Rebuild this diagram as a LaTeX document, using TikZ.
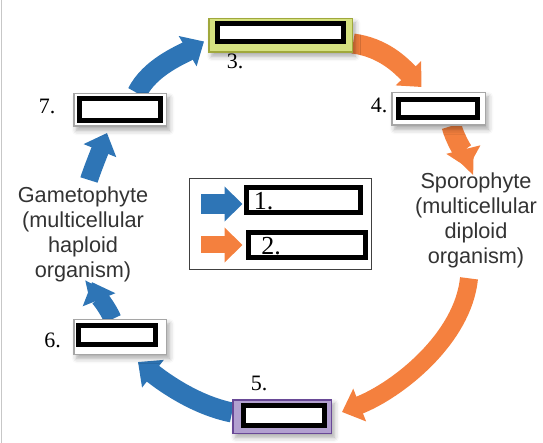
\documentclass[tikz,border=0pt]{standalone}
\usepackage{fontspec}
\setmainfont{Liberation Serif}
\newfontfamily\phasefont{Liberation Sans}
\usetikzlibrary{arrows.meta,calc,shadows.blur,backgrounds}

\definecolor{cycblue}{RGB}{46,117,182}
\definecolor{cycorange}{RGB}{244,128,62}
\definecolor{boxgreen}{RGB}{213,225,128}
\definecolor{boxolive}{RGB}{160,168,60}
\definecolor{boxlilac}{RGB}{178,160,208}
\definecolor{boxpurple}{RGB}{104,72,150}
\definecolor{boxgray}{RGB}{166,166,166}

\begin{document}
\begin{tikzpicture}[x=1pt,y=1pt,yscale=-1,xscale=1,
  outerbox/.style={draw=boxgray,line width=1.5pt,fill=white,inner sep=0pt,
    blur shadow={shadow xshift=3pt,shadow yshift=-4pt,shadow blur radius=5pt,shadow opacity=35}},
  blankbox/.style={draw=black,line width=5pt,fill=white,inner sep=0pt},
  numlabel/.style={font=\fontsize{22}{22}\selectfont,inner sep=0pt},
  keylabel/.style={font=\fontsize{26}{26}\selectfont,inner sep=0pt},
  phase/.style={align=center,inner sep=0pt,text=black!80,font=\phasefont\fontsize{21.7}{25}\selectfont},
  bigarrow/.style={line width=20pt,-{Triangle[length=19pt,width=34pt]}},
  keyarrow/.style={-{Triangle[length=18pt,width=34pt]}}]
\useasboundingbox (0,0) rectangle (543,443);
\draw [black!22,line width=1pt] (1,0) -- (1,443);
% boxes round the cycle
\node [outerbox,fill=boxgreen,draw=boxolive,minimum width=143.5pt,minimum height=33.5pt] (b3) at (280.5,35.5) {};
\node [blankbox,minimum width=126pt,minimum height=18pt] (b3in) at (280.5,32.5) {};
\node [numlabel] (l3) at (235,61) {3.};
\node [outerbox,minimum width=93.5pt,minimum height=32.5pt] (b4) at (438.5,109) {};
\node [blankbox,minimum width=79pt,minimum height=18pt] (b4in) at (438,108.5) {};
\node [numlabel] (l4) at (379,105.5) {4.};
\node [outerbox,fill=boxlilac,draw=boxpurple,minimum width=98.5pt,minimum height=33.5pt] (b5) at (282,416.5) {};
\node [blankbox,minimum width=81pt,minimum height=20pt] (b5in) at (284,415.5) {};
\node [numlabel] (l5) at (259,383.5) {5.};
\node [outerbox,minimum width=92.5pt,minimum height=34.5pt] (b6) at (120,337) {};
\node [blankbox,minimum width=77pt,minimum height=19pt] (b6in) at (117,335) {};
\node [numlabel] (l6) at (52.5,340) {6.};
\node [outerbox,minimum width=92.5pt,minimum height=32.5pt] (b7) at (120,110) {};
\node [blankbox,minimum width=81pt,minimum height=22pt] (b7in) at (120,109.5) {};
\node [numlabel] (l7) at (47,106) {7.};
% phases
\node [phase,anchor=north] (gam) at (83,186.5) {Gametophyte\\(multicellular\\haploid\\organism)};
\node [phase,anchor=north] (spo) at (476,172.7) {Sporophyte\\(multicellular\\diploid\\organism)};
% key
\node [draw=black!75,line width=1pt,minimum width=182pt,minimum height=91pt,inner sep=0pt] (key) at (280.5,224) {};
\node [blankbox,minimum width=114pt,minimum height=25pt] (r1) at (303.5,200) {};
\node [blankbox,minimum width=117pt,minimum height=25pt] (r2) at (307,245) {};
\coordinate (ka1) at (201,204);
\coordinate (ka2) at (201,245);
\draw [keyarrow,cycblue,line width=20pt] (ka1) -- ($(ka1 -| r1.west)+(-1.5,0)$) ;
\draw [keyarrow,cycorange,line width=17pt] (ka2) -- ($(ka2 -| r2.west)+(-3.5,0)$) ;
\node [keylabel] (n1) at (263.5,201) {1.};
\node [keylabel] (n2) at (271,246.5) {2.};
% cycle arrows
\begin{scope}[on background layer]
\draw [bigarrow,cycblue] ($(b7.north)+(17,0)$) .. controls +(13,-26) and +(-22,13) .. ($(b3.west)+(-4,6)$);
\draw [bigarrow,cycorange] ($(b3.east)+(0,8)$) .. controls +(30,4) and +(-21,-22) .. ($(b4.north)+(-17,-5)$);
\draw [bigarrow,cycorange] ($(b4.south)+(13,0)$) .. controls +(3,12) and +(-3,-12) .. ($(spo.north)+(-8,-4.7)$);
\draw [bigarrow,cycorange,line width=18pt] ($(spo.south)+(-7,10)$) .. controls +(-6,60) and +(56,-22) .. ($(b5.east)+(10,-4.5)$);
\draw [bigarrow,cycblue] ($(b5.west)+(0,-4)$) .. controls +(-35,-7) and +(28,22) .. ($(b6.south)+(18,7)$);
\draw [bigarrow,cycblue,line width=18pt] ($(b6.north)+(-7.5,0)$) .. controls +(-4,-10) and +(4,10) .. ($(gam.south)+(9,0)$);
\draw [bigarrow,cycblue,line width=18pt] ($(gam.north)+(6,-6.5)$) .. controls +(3,-10) and +(-4,10) .. ($(b7.south)+(-13,6)$);
\end{scope}
\end{tikzpicture}
\end{document}
